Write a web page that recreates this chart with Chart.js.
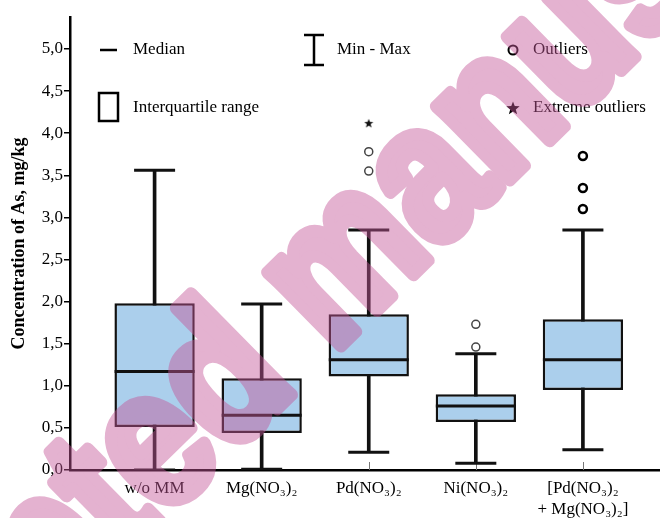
<!DOCTYPE html>
<html lang="en">
<head>
    <meta charset="UTF-8">
    <title>Concentration of As</title>
    <script src="https://cdn.jsdelivr.net/npm/chart.js"></script>
    <style>
        body {
            margin: 0;
            padding: 0;
            background: #fff;
        }

        #chartContainer {
            width: 660px;
            height: 518px;
            position: relative;
        }
    </style>
</head>
<body>
    <div id="chartContainer">
        <canvas id="chart"></canvas>
    </div>

    <script>
        // Data
        const categories = ['w/o MM', 'Mg(NO₃)₂', 'Pd(NO₃)₂', 'Ni(NO₃)₂', ['[Pd(NO₃)₂', '+ Mg(NO₃)₂]']];
        const minVals = [0.00, 0.01, 0.21, 0.08, 0.24];
        const q1Vals = [0.51, 0.44, 1.11, 0.57, 0.95];
        const medianVals = [1.17, 0.65, 1.31, 0.76, 1.31];
        const q3Vals = [1.98, 1.09, 1.85, 0.90, 1.79];
        const maxVals = [3.56, 1.97, 2.85, 1.38, 2.85];

        // outliers: category index (1-based) and value
        const outlierGroup = [3, 3, 4, 4, 5, 5, 5];
        const outlierVals = [3.55, 3.78, 1.46, 1.73, 3.10, 3.35, 3.73];
        const extremeGroup = [3];
        const extremeVals = [4.12];

        const yTicks = [0, 0.5, 1, 1.5, 2, 2.5, 3, 3.5, 4, 4.5, 5];

        const serif = '"Liberation Serif", "Times New Roman", serif';
        const boxBlue = '#abcfec';

        // small filled star used as point style
        function starPath(ctx, cx, cy, r) {
            ctx.beginPath();
            for (let i = 0; i < 10; i++) {
                const rad = i % 2 === 0 ? r : r * 0.42;
                const a = -Math.PI / 2 + i * Math.PI / 5;
                const px = cx + rad * Math.cos(a);
                const py = cy + rad * Math.sin(a);
                if (i === 0) ctx.moveTo(px, py); else ctx.lineTo(px, py);
            }
            ctx.closePath();
        }
        const starImg = document.createElement('canvas');
        starImg.width = 10;
        starImg.height = 10;
        const sctx = starImg.getContext('2d');
        sctx.fillStyle = '#111';
        starPath(sctx, 5, 5.5, 4.8);
        sctx.fill();

        const xy = (vals) => vals.map((v, i) => ({ x: i + 1, y: v }));

        // no extra label padding, the axes go edge to edge like the original
        const noPad = s => {
            s.paddingLeft = 0;
            s.paddingRight = 0;
            s.paddingTop = 0;
            s.paddingBottom = 0;
        };

        // legend + watermark + inner x ticks
        const decorPlugin = {
            id: 'decor',
            beforeDatasetsDraw(chart) {
                const ctx = chart.ctx;
                const x = chart.scales.x;
                const bottom = chart.chartArea.bottom;
                ctx.save();
                ctx.strokeStyle = '#777';
                ctx.lineWidth = 1;
                categories.forEach((c, i) => {
                    const px = Math.round(x.getPixelForValue(i + 1)) + 0.5;
                    ctx.beginPath();
                    ctx.moveTo(px, bottom - 8);
                    ctx.lineTo(px, bottom);
                    ctx.stroke();
                });
                ctx.restore();
            },
            afterDraw(chart) {
                const ctx = chart.ctx;
                ctx.save();
                ctx.strokeStyle = '#000';
                ctx.fillStyle = '#000';
                ctx.lineWidth = 2.5;

                // Median
                ctx.beginPath();
                ctx.moveTo(100, 50);
                ctx.lineTo(117, 50);
                ctx.stroke();
                // Interquartile range
                ctx.strokeRect(99, 93, 19, 28);
                // Min - Max
                ctx.beginPath();
                ctx.moveTo(314, 35); ctx.lineTo(314, 65);
                ctx.moveTo(304, 35); ctx.lineTo(324, 35);
                ctx.moveTo(304, 65); ctx.lineTo(324, 65);
                ctx.stroke();
                // Outliers
                ctx.lineWidth = 2;
                ctx.beginPath();
                ctx.arc(513, 50, 4.5, 0, Math.PI * 2);
                ctx.stroke();
                // Extreme outliers
                starPath(ctx, 513, 108.5, 7);
                ctx.fill();

                ctx.font = '17px ' + serif;
                ctx.textBaseline = 'middle';
                ctx.textAlign = 'left';
                ctx.fillText('Median', 133, 50);
                ctx.fillText('Interquartile range', 133, 108);
                ctx.fillText('Min - Max', 337, 50);
                ctx.fillText('Outliers', 533, 50);
                ctx.fillText('Extreme outliers', 533, 108);
                ctx.restore();

                // watermark, drawn opaque off-screen then laid over with alpha
                const wm = document.createElement('canvas');
                wm.width = chart.width;
                wm.height = chart.height;
                const w = wm.getContext('2d');
                const em = 178;
                w.font = 'bold ' + em + 'px "Liberation Sans", Arial, sans-serif';
                w.fillStyle = 'rgb(196, 87, 152)';
                w.strokeStyle = 'rgb(196, 87, 152)';
                w.lineWidth = 12;
                w.lineJoin = 'round';
                // put the centre of the "e" of "ted" at its place
                const toE = w.measureText('Accept').width + w.measureText('e').width / 2;
                w.translate(160, 452);
                w.rotate(-44.5 * Math.PI / 180);
                w.scale(0.92, 1.1);
                w.fillText('Accepted manuscript', -toE, 0.26 * em);
                w.strokeText('Accepted manuscript', -toE, 0.26 * em);
                ctx.save();
                ctx.globalAlpha = 0.46;
                ctx.drawImage(wm, 0, 0);
                ctx.restore();
            }
        };

        const ctx = document.getElementById('chart').getContext('2d');
        const chart = new Chart(ctx, {
            type: 'bar',
            data: {
                datasets: [
                    {
                        // whisker stems
                        type: 'bar',
                        data: categories.map((c, i) => ({ x: i + 1, y: [minVals[i], maxVals[i]] })),
                        backgroundColor: '#111',
                        barThickness: 3,
                        grouped: false,
                        order: 5
                    },
                    {
                        // boxes
                        type: 'bar',
                        data: categories.map((c, i) => ({ x: i + 1, y: [q1Vals[i], q3Vals[i]] })),
                        backgroundColor: boxBlue,
                        borderColor: '#111',
                        borderWidth: 2.5,
                        borderSkipped: false,
                        barPercentage: 0.75,
                        categoryPercentage: 1,
                        grouped: false,
                        order: 4
                    },
                    {
                        // whisker caps
                        type: 'scatter',
                        data: xy(maxVals).concat(xy(minVals)),
                        pointStyle: 'line',
                        radius: 20.5,
                        borderColor: '#111',
                        borderWidth: 3,
                        order: 3
                    },
                    {
                        // medians
                        type: 'scatter',
                        data: xy(medianVals),
                        pointStyle: 'line',
                        radius: 40,
                        borderColor: '#111',
                        borderWidth: 3,
                        order: 2
                    },
                    {
                        type: 'scatter',
                        data: outlierVals.map((v, i) => ({ x: outlierGroup[i], y: v })),
                        pointStyle: 'circle',
                        radius: 4,
                        backgroundColor: '#fff',
                        borderColor: c => (c.raw && c.raw.x === 5 ? '#000' : '#444'),
                        borderWidth: c => (c.raw && c.raw.x === 5 ? 2.5 : 1.5),
                        order: 1
                    },
                    {
                        type: 'scatter',
                        data: extremeVals.map((v, i) => ({ x: extremeGroup[i], y: v })),
                        pointStyle: starImg,
                        order: 1
                    }
                ]
            },
            options: {
                responsive: true,
                maintainAspectRatio: false,
                animation: false,
                layout: {
                    autoPadding: false,
                    padding: { top: 17, right: 0, bottom: 0, left: 0 }
                },
                plugins: {
                    legend: { display: false },
                    tooltip: { enabled: false }
                },
                scales: {
                    x: {
                        type: 'linear',
                        min: 0.21,
                        max: 5.72,
                        offset: false,
                        afterBuildTicks: s => { s.ticks = categories.map((c, i) => ({ value: i + 1 })); },
                        afterFit: s => { s.height = 48; noPad(s); },
                        grid: { display: false, drawOnChartArea: false, drawTicks: false },
                        border: { display: true, color: '#000', width: 2.5 },
                        ticks: {
                            autoSkip: false,
                            maxRotation: 0,
                            padding: 8,
                            color: '#000',
                            font: { family: serif, size: 17, lineHeight: 1.25 },
                            callback: v => categories[Math.round(v) - 1]
                        }
                    },
                    y: {
                        min: 0,
                        max: 5.38,
                        afterBuildTicks: s => { s.ticks = yTicks.map(v => ({ value: v })); },
                        afterFit: s => { s.width = 70; noPad(s); },
                        grid: {
                            drawOnChartArea: false,
                            drawTicks: true,
                            tickLength: 6,
                            color: '#000',
                            lineWidth: 1.5
                        },
                        border: { display: true, color: '#000', width: 2.5 },
                        ticks: {
                            padding: 1,
                            color: '#000',
                            font: { family: serif, size: 17 },
                            callback: v => v.toFixed(1).replace('.', ',')
                        },
                        title: {
                            display: true,
                            text: 'Concentration of As, mg/kg',
                            color: '#000',
                            padding: { top: 9, bottom: 0 },
                            font: { family: serif, size: 18, weight: 'bold' }
                        }
                    }
                }
            },
            plugins: [decorPlugin]
        });
    </script>
</body>
</html>
